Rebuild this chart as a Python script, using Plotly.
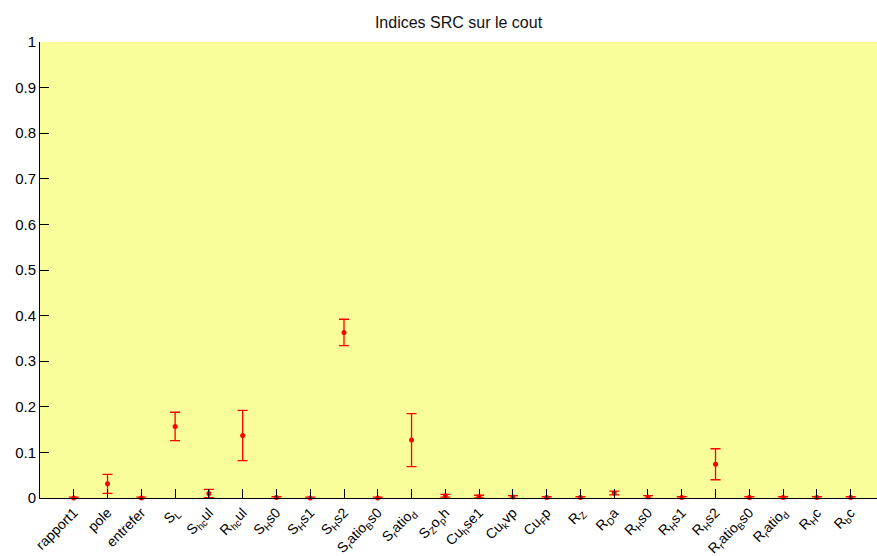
import plotly.graph_objects as go

labels = [
    "rapport1", "pole", "entrefer", "S<sub>L</sub>", "S<sub>hc</sub>ul", "R<sub>hc</sub>ul",
    "S<sub>H</sub>s0", "S<sub>H</sub>s1", "S<sub>H</sub>s2", "S<sub>r</sub>atio<sub>B</sub>s0",
    "S<sub>r</sub>atio<sub>d</sub>", "S<sub>Z</sub>o<sub>p</sub>h", "Cu<sub>h</sub>se1",
    "Cu<sub>k</sub>vp", "Cu<sub>F</sub>p", "R<sub>Z</sub>", "R<sub>D</sub>a", "R<sub>H</sub>s0",
    "R<sub>H</sub>s1", "R<sub>H</sub>s2", "R<sub>r</sub>atio<sub>B</sub>s0", "R<sub>r</sub>atio<sub>d</sub>",
    "R<sub>H</sub>c", "R<sub>b</sub>c",
]
src_values = [0.0, 0.031, 0.0, 0.157, 0.010, 0.137, 0.001, 0.0, 0.363, 0.0,
              0.127, 0.005, 0.003, 0.002, 0.001, 0.001, 0.011, 0.002,
              0.001, 0.074, 0.001, 0.001, 0.001, 0.001]
src_errors = [0.002, 0.021, 0.002, 0.031, 0.009, 0.055, 0.002, 0.002, 0.029, 0.002,
              0.058, 0.003, 0.003, 0.003, 0.002, 0.002, 0.004, 0.003,
              0.002, 0.034, 0.002, 0.002, 0.002, 0.002]
yticks = [0, 0.1, 0.2, 0.3, 0.4, 0.5, 0.6, 0.7, 0.8, 0.9, 1]
ytick_text = ["0", "0.1", "0.2", "0.3", "0.4", "0.5", "0.6", "0.7", "0.8", "0.9", "1"]

fig = go.Figure(go.Scatter(
    x=labels, y=src_values, mode="markers",
    marker=dict(color="red", size=5, symbol="circle"),
    error_y=dict(type="data", array=src_errors, visible=True, color="red", thickness=1.3, width=5),
    showlegend=False, cliponaxis=False,
))

fig.update_layout(
    width=877, height=556,
    margin=dict(l=40, r=0, t=42, b=58, autoexpand=False),
    paper_bgcolor="white", plot_bgcolor="#fafe9a",
    font=dict(family="Liberation Sans, Arial, sans-serif", size=15, color="black"),
    title=dict(text="Indices SRC sur le cout", x=0.5, xref="paper", xanchor="center",
               y=0.96, yref="container", yanchor="middle",
               font=dict(size=16, color="#111")),
)
fig.update_xaxes(
    type="category", range=[-1, 23.78], tickangle=-45, automargin=False,
    ticks="inside", ticklen=9, tickcolor="black", showline=True, linecolor="black", linewidth=1,
    showgrid=False, zeroline=False, tickfont=dict(size=14),
)
fig.update_yaxes(
    range=[0, 1], tickvals=yticks, ticktext=ytick_text, automargin=False,
    ticks="inside", ticklen=9, tickcolor="black", showline=True, linecolor="black", linewidth=1,
    showgrid=False, zeroline=False, tickfont=dict(size=15),
)

fig.write_html("out.html", config={"displayModeBar": False},
               post_script="document.body.style.margin='0';document.body.style.overflow='hidden';")
